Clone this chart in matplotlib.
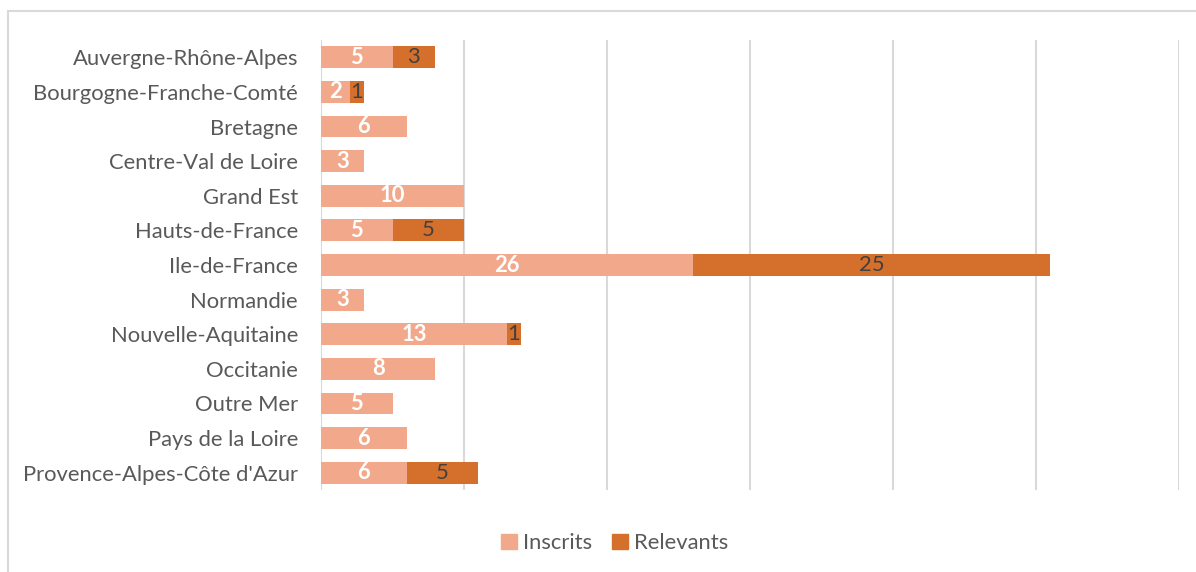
import numpy as np
import matplotlib.pyplot as plt
from matplotlib.patches import Rectangle, Patch

regions = ["Auvergne-Rhône-Alpes", "Bourgogne-Franche-Comté", "Bretagne",
           "Centre-Val de Loire", "Grand Est", "Hauts-de-France", "Ile-de-France",
           "Normandie", "Nouvelle-Aquitaine", "Occitanie", "Outre Mer",
           "Pays de la Loire", "Provence-Alpes-Côte d'Azur"]
inscrits = [5, 2, 6, 3, 10, 5, 26, 3, 13, 8, 5, 6, 6]
relevants = [3, 1, 0, 0, 0, 5, 25, 0, 1, 0, 0, 0, 5]

c_ins = '#F2A98B'
c_rel = '#D5702C'
grid_c = '#D9D9D9'
text_c = '#595959'
fs = 15.8

plt.rcParams['font.family'] = ['Lato', 'DejaVu Sans']

fig = plt.figure(figsize=(11.96, 5.72), dpi=100)
ax = fig.add_axes([321 / 1196, 1 - 490 / 572, 858 / 1196, 450 / 572])

y = np.arange(len(regions))
ax.barh(y, inscrits, height=0.63, color=c_ins, label='Inscrits', zorder=3)
ax.barh(y, relevants, left=inscrits, height=0.63, color=c_rel, label='Relevants', zorder=3)

for i in range(len(regions)):
    ax.text(inscrits[i] / 2, y[i], str(inscrits[i]), ha='center', va='center',
            color='white', fontweight='bold', fontsize=fs, zorder=4)
    if relevants[i] > 0:
        ax.text(inscrits[i] + relevants[i] / 2, y[i], str(relevants[i]), ha='center',
                va='center', color='#404040', fontsize=fs, zorder=4)

ax.set_xlim(0, 60)
ax.set_ylim(len(regions) - 0.5, -0.5)
ax.set_xticks(np.arange(0, 61, 10))
ax.set_xticklabels([])
ax.tick_params(axis='x', length=0)
ax.tick_params(axis='y', length=0, pad=16.5, labelsize=fs, labelcolor=text_c)
ax.set_yticks(y)
ax.set_yticklabels(regions)
ax.grid(axis='x', color=grid_c, linewidth=1.5, zorder=0)
for s in ax.spines.values():
    s.set_visible(False)

# outer chart frame
fig.patches.append(Rectangle((8 / 1196, -0.1), 1.2, 1 - 11 / 572 + 0.1,
                             transform=fig.transFigure, fill=False,
                             edgecolor=grid_c, linewidth=1.5))

handles = [Patch(color=c_ins, label='Inscrits'), Patch(color=c_rel, label='Relevants')]
fig.legend(handles=handles, loc='center', bbox_to_anchor=(615 / 1196, 1 - 543 / 572),
           ncol=2, frameon=False, fontsize=fs, labelcolor=text_c,
           handlelength=0.7, handleheight=0.7, handletextpad=0.3, columnspacing=0.9)

fig.savefig('out.png', dpi=100)
